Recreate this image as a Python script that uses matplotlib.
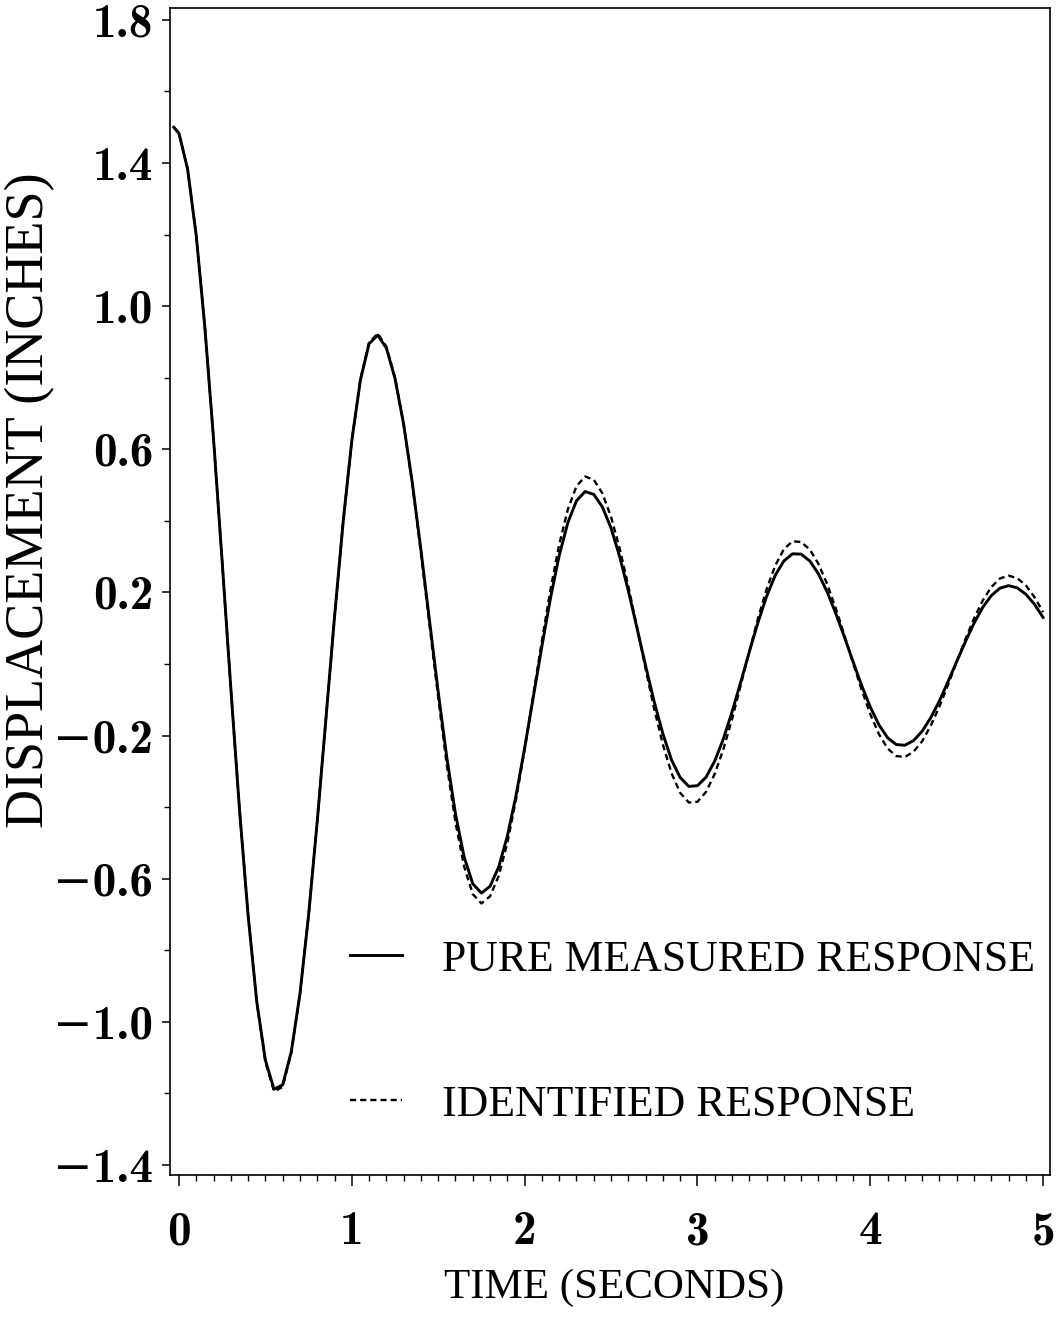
import numpy as np
import matplotlib
matplotlib.use("Agg")
import matplotlib.pyplot as plt
from matplotlib.ticker import FixedLocator, MultipleLocator, FuncFormatter

# sampling grid (seconds): start of trace, then every 0.05 s
time_s = np.concatenate([[-0.03], np.round(np.arange(0, 5.001, 0.05), 2)])

# pure measured response (inches)
measured = [
    1.500,
    1.483, 1.383, 1.197, 0.940, 0.630, 0.286, -0.067, -0.405, -0.702, -0.943,
    -1.107, -1.188, -1.176, -1.083, -0.922, -0.702, -0.440, -0.155, 0.131, 0.397,
    0.624, 0.794, 0.895, 0.919, 0.883, 0.798, 0.670, 0.507, 0.319, 0.120,
    -0.078, -0.262, -0.419, -0.539, -0.614, -0.640, -0.621, -0.567, -0.481, -0.368,
    -0.235, -0.093, 0.050, 0.185, 0.303, 0.395, 0.456, 0.482, 0.474, 0.439,
    0.380, 0.300, 0.205, 0.101, -0.005, -0.106, -0.195, -0.268, -0.317, -0.342,
    -0.340, -0.316, -0.271, -0.209, -0.134, -0.051, 0.034, 0.116, 0.189, 0.248,
    0.288, 0.308, 0.307, 0.288, 0.252, 0.202, 0.142, 0.076, 0.007, -0.060,
    -0.120, -0.170, -0.206, -0.225, -0.227, -0.214, -0.188, -0.150, -0.103, -0.049,
    0.007, 0.062, 0.114, 0.158, 0.191, 0.212, 0.219, 0.213, 0.195, 0.167,
    0.130,
]

# identified response (inches)
identified = [
    1.500,
    1.483, 1.383, 1.197, 0.940, 0.630, 0.286, -0.067, -0.405, -0.702, -0.945,
    -1.112, -1.194, -1.182, -1.086, -0.922, -0.702, -0.440, -0.155, 0.131, 0.397,
    0.624, 0.796, 0.898, 0.924, 0.887, 0.801, 0.669, 0.503, 0.311, 0.108,
    -0.094, -0.283, -0.443, -0.566, -0.643, -0.669, -0.649, -0.592, -0.500, -0.379,
    -0.239, -0.087, 0.065, 0.209, 0.334, 0.432, 0.497, 0.524, 0.515, 0.477,
    0.411, 0.323, 0.218, 0.103, -0.014, -0.126, -0.225, -0.305, -0.360, -0.387,
    -0.385, -0.357, -0.307, -0.238, -0.154, -0.060, 0.035, 0.127, 0.209, 0.275,
    0.321, 0.343, 0.341, 0.320, 0.280, 0.224, 0.156, 0.081, 0.003, -0.072,
    -0.140, -0.196, -0.236, -0.257, -0.260, -0.245, -0.216, -0.172, -0.119, -0.058,
    0.006, 0.069, 0.127, 0.177, 0.215, 0.239, 0.247, 0.240, 0.220, 0.187,
    0.145,
]

xticks = [0, 1, 2, 3, 4, 5]
yticks = [-1.4, -1.0, -0.6, -0.2, 0.2, 0.6, 1.0, 1.4, 1.8]
labels = ["PURE MEASURED RESPONSE", "IDENTIFIED RESPONSE"]

serif = "Liberation Serif"
tickfont = ["cmb10", "DejaVu Serif"]  # bold CM digits, minus from DejaVu

fig = plt.figure(figsize=(10.63, 13.2), dpi=100)
ax = fig.add_axes([0.1599, 0.1098, 0.8279, 0.8841])

ax.plot(time_s, measured, c="k", lw=2.1, label=labels[0])
ax.plot(time_s, identified, c="k", lw=1.7, ls=(0, (2.6, 1.7)), label=labels[1])

ax.set_xlim(-0.052, 5.04)
ax.set_ylim(-1.428, 1.833)

ax.xaxis.set_major_locator(FixedLocator(xticks))
ax.xaxis.set_minor_locator(MultipleLocator(0.1))
ax.yaxis.set_major_locator(FixedLocator(yticks))
ax.yaxis.set_minor_locator(MultipleLocator(0.2))

ax.xaxis.set_major_formatter(FuncFormatter(lambda v, p: "%d" % round(v)))
ax.yaxis.set_major_formatter(FuncFormatter(lambda v, p: ("%.1f" % v).replace("-", "\u2212")))

ax.tick_params(axis="x", which="major", direction="out", length=8, width=1.1,
               labelsize=34, pad=18)
ax.tick_params(axis="x", which="minor", direction="out", length=4, width=1.0)
ax.tick_params(axis="y", which="major", direction="out", length=6, width=1.1,
               labelsize=34, pad=6)
ax.tick_params(axis="y", which="minor", direction="out", length=4, width=1.0)
for lab in ax.get_xticklabels() + ax.get_yticklabels():
    lab.set_family(tickfont)

for s in ax.spines.values():
    s.set_linewidth(1.2)

ax.set_xlabel("TIME (SECONDS)", fontsize=31, family=serif, va="top")
ax.set_ylabel("DISPLACEMENT (INCHES)", fontsize=39, family=serif)
ax.xaxis.set_label_coords(0.5045, -0.080)
ax.yaxis.set_label_coords(-0.130, 0.578)

ax.legend(loc="center left", bbox_to_anchor=(0.2045, 0.1225), frameon=False,
          prop={"family": serif, "size": 31.5}, handlelength=1.2,
          handletextpad=0.9, labelspacing=2.4, borderpad=0, borderaxespad=0)

fig.savefig("out.png", dpi=100, facecolor="white")
